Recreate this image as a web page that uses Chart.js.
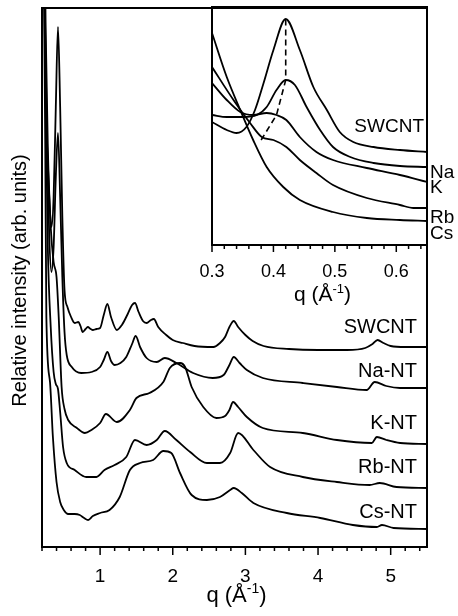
<!DOCTYPE html>
<html>
<head>
<meta charset="utf-8">
<script src="https://cdn.jsdelivr.net/npm/chart.js@4.4.0/dist/chart.umd.min.js"></script>
<style>
  html, body { margin: 0; padding: 0; background: #fff; }
  #wrap { position: relative; width: 458px; height: 616px; }
  #wrap canvas { position: absolute; left: 0; top: 0; }
</style>
</head>
<body>
<div id="wrap">
  <canvas id="main" width="458" height="616"></canvas>
  <canvas id="inset" width="458" height="616"></canvas>
</div>
<script>
const FONT = '"Liberation Sans", Arial, Helvetica, sans-serif';

// main panel: q (1/A) and relative intensity (arb. units)
const qSW = [0.21,0.235,0.26,0.30,0.33,0.36,0.39,0.42,0.45,0.48,0.51,0.55,0.60,0.65,0.70,0.73,0.76,0.80,0.83,0.87,0.90,0.95,1.00,1.05,1.10,1.15,1.23,1.30,1.38,1.44,1.48,1.53,1.59,1.64,1.70,1.74,1.80,1.91,2.00,2.14,2.30,2.56,2.65,2.72,2.78,2.84,2.90,3.00,3.10,3.25,3.60,4.00,4.40,4.65,4.75,4.82,4.90,5.00,5.20,5.50];
const iSW = [800,539,430,350,320,350,440,520,440,330,257,240,230,224,225,221,215,218,220,218,217,218,219,232,243,230,217,222,233,242,244,235,226,224,227,228,220,212,207,204,201,200,204,210,220,226,220,212,206,201,198,197,197,199,203,207,204,201,200,200];

const qNa = [0.21,0.24,0.27,0.30,0.33,0.36,0.39,0.42,0.45,0.48,0.51,0.54,0.61,0.74,0.88,1.00,1.05,1.10,1.15,1.20,1.28,1.36,1.44,1.49,1.55,1.64,1.78,1.89,2.05,2.28,2.55,2.70,2.78,2.84,2.92,3.02,3.24,3.79,4.26,4.67,4.78,4.94,5.13,5.50];
const iNa = [800,539,400,310,275,300,370,414,350,270,215,192,180,174,175,180,187,195,186,182,184,190,203,211,200,189,185,189,184,174,169,172,182,190,184,177,169,164,160,157,165,161,159,159];

const qK = [0.21,0.25,0.28,0.32,0.36,0.40,0.43,0.47,0.51,0.56,0.68,0.79,0.88,1.00,1.08,1.23,1.41,1.50,1.68,1.87,1.96,2.10,2.17,2.26,2.42,2.60,2.72,2.78,2.83,2.90,3.02,3.24,3.79,4.26,4.74,4.81,4.94,5.13,5.50];
const iK = [800,520,400,320,285,270,230,160,138,127,119,114,117,124,133,125,137,149,154,165,179,184,180,160,140,129,131,137,145,140,130,119,114,107,104,110,107,104,103];

const qRb = [0.21,0.25,0.28,0.32,0.36,0.39,0.42,0.45,0.49,0.54,0.65,0.81,0.95,1.06,1.20,1.36,1.48,1.64,1.78,1.89,2.05,2.24,2.47,2.65,2.79,2.90,3.11,3.34,3.79,4.26,4.71,4.85,5.08,5.50];
const iRb = [800,450,300,220,175,163,158,135,100,84,77,70,70,77,82,90,107,102,107,116,107,95,84,84,94,114,97,80,70,65,62,64,60,59];

const qCs = [0.21,0.245,0.26,0.31,0.35,0.40,0.45,0.50,0.56,0.65,0.72,0.78,0.835,0.90,1.00,1.13,1.27,1.41,1.55,1.73,1.87,1.98,2.10,2.26,2.47,2.65,2.79,2.84,2.95,3.11,3.57,4.03,4.48,4.81,4.88,5.04,5.50];
const iCs = [700,400,230,165,110,65,45,37,33,33,32,29,27,31,34,37,50,77,84,87,96,94,74,52,47,50,57,59,54,44,34,29,22,20,22,19,18];

const mainLabels = ['SWCNT', 'Na-NT', 'K-NT', 'Rb-NT', 'Cs-NT'];
const mainTicks = [1, 2, 3, 4, 5];

// inset: low-q region
const qInSW = [0.300,0.324,0.340,0.356,0.370,0.384,0.400,0.420,0.443,0.465,0.487,0.508,0.530,0.563,0.606,0.650];
const iInSW = [123,115,112,118,135,162,195,226,195,158,135,113,103,98,95,93];
const qInNa = [0.300,0.324,0.351,0.373,0.389,0.405,0.420,0.435,0.454,0.476,0.497,0.525,0.563,0.606,0.650];
const iInNa = [130,128,128,130,138,155,165,160,138,115,98,88,82,79,78];
const qInK = [0.300,0.324,0.346,0.367,0.389,0.405,0.421,0.443,0.470,0.497,0.552,0.606,0.650];
const iInK = [162,145,133,130,132,130,125,108,93,85,77,70,63];
const qInRb = [0.300,0.335,0.362,0.381,0.400,0.421,0.443,0.470,0.497,0.552,0.606,0.628,0.650];
const iInRb = [178,145,122,108,105,98,85,72,60,47,40,37,37];
const qInCs = [0.300,0.324,0.346,0.367,0.389,0.416,0.443,0.497,0.552,0.606,0.650];
const iInCs = [212,168,135,105,78,58,45,33,27,25,24];
const qPeak = [0.380, 0.405, 0.420, 0.420];
const iPeak = [105, 130, 165, 226];

const insetLabels = ['SWCNT', 'Na', 'K', 'Rb', 'Cs'];
const insetTicks = [0.3, 0.4, 0.5, 0.6];

const pts = (q, v) => q.map((x, k) => ({ x: x, y: v[k] }));

function curve(q, v) {
  return {
    data: pts(q, v),
    borderColor: '#000',
    borderWidth: 1.8,
    pointRadius: 0,
    fill: false,
    cubicInterpolationMode: 'monotone',
  };
}

function drawQTitle(ctx, cx, baseline, size) {
  const sup = Math.round(size * 0.62);
  ctx.font = size + 'px ' + FONT;
  const wa = ctx.measureText('q (Å').width;
  const wb = ctx.measureText(')').width;
  ctx.font = sup + 'px ' + FONT;
  const ws = ctx.measureText('-1').width;
  const x0 = cx - (wa + ws + wb) / 2;
  ctx.textAlign = 'left';
  ctx.textBaseline = 'alphabetic';
  ctx.font = size + 'px ' + FONT;
  ctx.fillText('q (Å', x0, baseline);
  ctx.font = sup + 'px ' + FONT;
  ctx.fillText('-1', x0 + wa, baseline - size * 0.4);
  ctx.font = size + 'px ' + FONT;
  ctx.fillText(')', x0 + wa + ws, baseline);
}

function drawTicks(ctx, scale, bottom, step, every, from, to, minorLen, majorLen) {
  ctx.beginPath();
  const n = Math.round((to - from) / step);
  for (let k = 0; k <= n; k++) {
    const v = from + k * step;
    const px = scale.getPixelForValue(v);
    const major = Math.abs(v / every - Math.round(v / every)) < 1e-6;
    ctx.moveTo(px, bottom);
    ctx.lineTo(px, bottom + (major ? majorLen : minorLen));
  }
  ctx.stroke();
}

const mainDecor = {
  id: 'mainDecor',
  afterDraw(chart) {
    const { ctx, chartArea: a } = chart;
    const x = chart.scales.x;
    ctx.save();
    ctx.strokeStyle = '#000';
    ctx.fillStyle = '#000';
    ctx.lineWidth = 2;
    ctx.strokeRect(a.left, a.top, a.right - a.left, a.bottom - a.top);
    ctx.lineWidth = 1.5;
    drawTicks(ctx, x, a.bottom, 0.2, 1, 0.2, 5.4, 4, 8);

    ctx.font = '19px ' + FONT;
    ctx.textAlign = 'center';
    ctx.textBaseline = 'alphabetic';
    mainTicks.forEach(t => ctx.fillText(String(t), x.getPixelForValue(t), 582));

    drawQTitle(ctx, (a.left + a.right) / 2 + 2, 602, 22);

    ctx.save();
    ctx.translate(20, (a.top + a.bottom) / 2 + 3);
    ctx.rotate(-Math.PI / 2);
    ctx.font = '20px ' + FONT;
    ctx.textAlign = 'center';
    ctx.textBaseline = 'middle';
    ctx.fillText('Relative intensity (arb. units)', 0, 0);
    ctx.restore();

    const ys = [327, 371, 423, 467, 512];
    ctx.font = '20px ' + FONT;
    ctx.textAlign = 'right';
    ctx.textBaseline = 'middle';
    mainLabels.forEach((s, k) => ctx.fillText(s, a.right - 10, ys[k]));
    ctx.restore();
  }
};

new Chart(document.getElementById('main'), {
  type: 'line',
  data: {
    datasets: [
      curve(qSW, iSW),
      curve(qNa, iNa),
      curve(qK, iK),
      curve(qRb, iRb),
      curve(qCs, iCs),
    ],
  },
  options: {
    responsive: false,
    animation: false,
    devicePixelRatio: 1,
    events: [],
    layout: { padding: { left: 42, top: 8, right: 31, bottom: 69 } },
    plugins: { legend: { display: false }, tooltip: { enabled: false } },
    scales: {
      x: { type: 'linear', min: 0.2, max: 5.5, display: false },
      y: { type: 'linear', min: 0, max: 539, display: false },
    },
  },
  plugins: [mainDecor],
});

const insetDecor = {
  id: 'insetDecor',
  afterDraw(chart) {
    const { ctx, chartArea: a } = chart;
    const x = chart.scales.x;
    ctx.save();
    ctx.strokeStyle = '#000';
    ctx.fillStyle = '#000';
    ctx.lineWidth = 2;
    ctx.strokeRect(a.left, a.top, a.right - a.left, a.bottom - a.top);
    ctx.lineWidth = 1.5;
    drawTicks(ctx, x, a.bottom, 0.02, 0.1, 0.3, 0.64, 4, 7);

    ctx.font = '18px ' + FONT;
    ctx.textAlign = 'center';
    ctx.textBaseline = 'alphabetic';
    insetTicks.forEach(t => ctx.fillText(t.toFixed(1), x.getPixelForValue(t), 277));

    drawQTitle(ctx, (a.left + a.right) / 2 + 3, 301, 21);

    ctx.font = '19px ' + FONT;
    ctx.textBaseline = 'middle';
    ctx.textAlign = 'right';
    ctx.fillText(insetLabels[0], a.right - 3, 127);
    ctx.textAlign = 'left';
    const ys = [173, 188, 218, 234];
    insetLabels.slice(1).forEach((s, k) => ctx.fillText(s, a.right + 3, ys[k]));
    ctx.restore();
  }
};

const peakLine = curve(qPeak, iPeak);
peakLine.borderDash = [6, 4];
peakLine.cubicInterpolationMode = 'default';
peakLine.tension = 0;
peakLine.borderWidth = 1.6;

new Chart(document.getElementById('inset'), {
  type: 'line',
  data: {
    datasets: [
      curve(qInSW, iInSW),
      curve(qInNa, iInNa),
      curve(qInK, iInK),
      curve(qInRb, iInRb),
      curve(qInCs, iInCs),
      peakLine,
    ],
  },
  options: {
    responsive: false,
    animation: false,
    devicePixelRatio: 1,
    events: [],
    layout: { padding: { left: 212, top: 7, right: 31, bottom: 371 } },
    plugins: { legend: { display: false }, tooltip: { enabled: false } },
    scales: {
      x: { type: 'linear', min: 0.3, max: 0.65, display: false },
      y: { type: 'linear', min: 0, max: 238, display: false },
    },
  },
  plugins: [insetDecor],
});
</script>
</body>
</html>
